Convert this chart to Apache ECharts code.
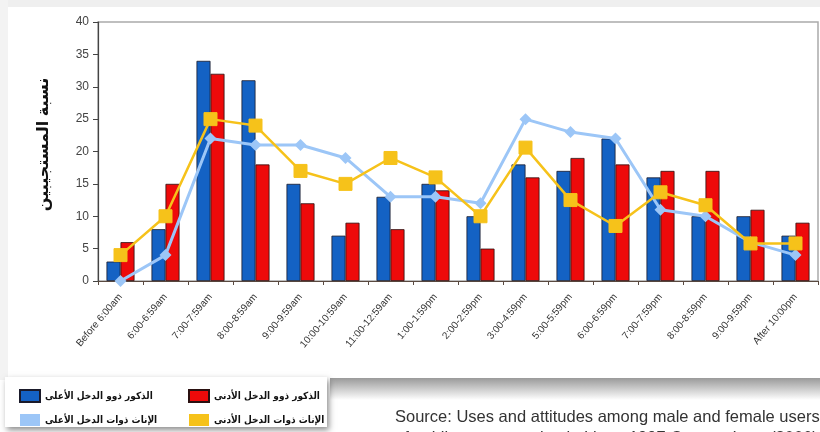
<!DOCTYPE html>
<html>
<head>
<meta charset="utf-8">
<script src="https://cdn.jsdelivr.net/npm/echarts@6/dist/echarts.min.js"></script>
<style>html,body{margin:0;padding:0;background:#fff}#c{width:820px;height:432px}</style>
</head>
<body>
<div id="c"></div>
<script>
const categories = ['Before 6:00am','6:00-6:59am','7:00-7:59am','8:00-8:59am','9:00-9:59am','10:00-10:59am','11:00-12:59am','1:00-1:59pm','2:00-2:59pm','3:00-4:59pm','5:00-5:59pm','6:00-6:59pm','7:00-7:59pm','8:00-8:59pm','9:00-9:59pm','After 10:00pm'];
const menHigh   = [3, 8, 34, 31, 15, 7, 13, 15, 10, 18, 17, 22, 16, 10, 10, 7];
const menLow    = [6, 15, 32, 18, 12, 9, 8, 14, 5, 16, 19, 18, 17, 17, 11, 9];
const womenHigh = [0, 4, 22, 21, 21, 19, 13, 13, 12, 25, 23, 22, 11, 10, 6, 4];
const womenLow  = [4, 10, 25, 24, 17, 15, 19, 16, 10, 20.6, 12.5, 8.5, 13.7, 11.7, 5.8, 5.8];
const yTicks = {min: 0, max: 40, interval: 5};
const names = ['الذكور ذوو الدخل الأعلى','الذكور ذوو الدخل الأدنى','الإناث ذوات الدخل الأعلى','الإناث ذوات الدخل الأدنى'];
const yName = 'نسبة المستجيبين';
const sourceText = 'Source: Uses and attitudes among male and female users\nof public transportation in Lima, 1997 Gomez, Lora (2000)';

const chart = echarts.init(document.getElementById('c'));
const font = 'Arial, "Liberation Sans", "DejaVu Sans", sans-serif';
const legendText = {fontFamily: '"DejaVu Sans Condensed", "DejaVu Sans", sans-serif', fontWeight: 'bold', fontSize: 10, color: '#111'};
chart.setOption({
  backgroundColor: '#ffffff',
  animation: false,
  textStyle: {fontFamily: font},
  title: {
    text: sourceText, left: 390, top: 402,
    textStyle: {fontSize: 16.5, fontWeight: 'normal', color: '#333', lineHeight: 21, fontFamily: font}
  },
  graphic: [
    {type: 'rect', left: 0, top: 0, shape: {width: 820, height: 7}, style: {fill: '#efefef'}, silent: true, z: -10},
    {type: 'rect', left: 0, top: 0, shape: {width: 8, height: 380}, style: {fill: '#f3f3f3'}, silent: true, z: -10},
    {type: 'rect', left: 330, top: 378, shape: {width: 490, height: 22},
      style: {fill: {type: 'linear', x: 0, y: 0, x2: 0, y2: 1, colorStops: [{offset: 0, color: '#9a9a9a'}, {offset: 1, color: '#ffffff'}]}}, silent: true, z: -5},
    {type: 'rect', left: 5, top: 377, shape: {width: 322, height: 50},
      style: {fill: '#fff', shadowBlur: 6, shadowColor: 'rgba(0,0,0,0.45)', shadowOffsetX: 2, shadowOffsetY: 3}, silent: true, z: 5}
  ],
  legend: [
    {data: [names[0], names[2]], orient: 'vertical', left: 14, top: 384, itemWidth: 20, itemHeight: 12, itemGap: 11,
      icon: 'rect', textStyle: legendText, z: 10},
    {data: [names[1], names[3]], orient: 'vertical', left: 183, top: 384, itemWidth: 20, itemHeight: 12, itemGap: 11,
      icon: 'rect', textStyle: legendText, z: 10}
  ],
  grid: {left: 98, right: 2, top: 22, bottom: 151, show: true, borderColor: '#aaaaaa', borderWidth: 1.5, backgroundColor: '#fff'},
  xAxis: {
    type: 'category', data: categories, boundaryGap: true,
    axisLine: {lineStyle: {color: '#5a4a40', width: 1.2}},
    axisTick: {show: true, length: 4, lineStyle: {color: '#5a4a40'}},
    axisLabel: {rotate: 50, fontSize: 10, color: '#333', interval: 0, margin: 14, fontFamily: font}
  },
  yAxis: {
    type: 'value', min: yTicks.min, max: yTicks.max, interval: yTicks.interval,
    name: yName, nameLocation: 'middle', nameRotate: 90, nameGap: 46,
    nameTextStyle: {fontSize: 16, fontWeight: 'bold', color: '#111', fontFamily: font, padding: [0, 0, 0, 14]},
    axisLine: {show: true, lineStyle: {color: '#444', width: 1.2}},
    axisTick: {show: true, length: 5, lineStyle: {color: '#444'}},
    axisLabel: {fontSize: 12, color: '#444', margin: 9, fontFamily: font},
    splitLine: {show: false}
  },
  series: [
    {name: names[0], type: 'bar', data: menHigh, barWidth: 14, barGap: '0%',
      itemStyle: {color: '#1462c4', borderColor: '#1a1a2a', borderWidth: 0.8}},
    {name: names[1], type: 'bar', data: menLow, barWidth: 14, barGap: '0%',
      itemStyle: {color: '#ee0a0a', borderColor: '#2a1010', borderWidth: 0.8}},
    {name: names[2], type: 'line', data: womenHigh, symbol: 'diamond', symbolSize: 12, z: 3,
      lineStyle: {color: '#9cc6f7', width: 3}, itemStyle: {color: '#9cc6f7', borderColor: '#8aa8d0', borderWidth: 0}},
    {name: names[3], type: 'line', data: womenLow, symbol: 'rect', symbolSize: 13, z: 4,
      lineStyle: {color: '#f6c21a', width: 2.5}, itemStyle: {color: '#f6c21a', borderColor: '#f6c21a'}}
  ]
});
</script>
</body>
</html>
